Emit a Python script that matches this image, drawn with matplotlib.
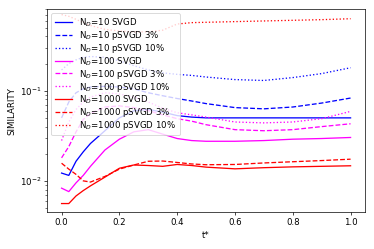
import numpy as np
import matplotlib
matplotlib.use("Agg")
import matplotlib.pyplot as plt

t = [0.0, 0.025, 0.05, 0.075, 0.1, 0.15, 0.2, 0.25, 0.3, 0.35, 0.4, 0.45, 0.5, 0.6, 0.7, 0.8, 0.9, 1.0]

# N_D = 10
n10_svgd = [0.0122, 0.0115, 0.0165, 0.021, 0.026, 0.036, 0.05, 0.06, 0.062, 0.058, 0.053, 0.051, 0.05, 0.05, 0.05, 0.05, 0.05, 0.05]
n10_p3 = [0.05, 0.075, 0.095, 0.105, 0.11, 0.112, 0.11, 0.105, 0.095, 0.088, 0.082, 0.077, 0.072, 0.065, 0.063, 0.066, 0.073, 0.083]
n10_p10 = [0.17, 0.2, 0.22, 0.235, 0.24, 0.235, 0.215, 0.19, 0.17, 0.158, 0.152, 0.148, 0.142, 0.133, 0.13, 0.14, 0.155, 0.18]

# N_D = 100
n100_svgd = [0.0083, 0.0076, 0.0095, 0.0115, 0.0145, 0.022, 0.029, 0.035, 0.037, 0.033, 0.0295, 0.028, 0.0275, 0.0275, 0.028, 0.029, 0.0295, 0.0303]
n100_p3 = [0.018, 0.024, 0.035, 0.048, 0.056, 0.066, 0.068, 0.065, 0.06, 0.054, 0.049, 0.046, 0.042, 0.037, 0.036, 0.037, 0.04, 0.043]
n100_p10 = [0.028, 0.045, 0.062, 0.075, 0.085, 0.095, 0.092, 0.085, 0.075, 0.064, 0.057, 0.054, 0.051, 0.045, 0.044, 0.045, 0.049, 0.059]

# N_D = 1000
n1000_svgd = [0.0056, 0.0056, 0.0068, 0.0078, 0.0088, 0.011, 0.0138, 0.015, 0.0148, 0.0145, 0.0152, 0.0148, 0.0142, 0.0136, 0.014, 0.0143, 0.0145, 0.0147]
n1000_p3 = [0.0157, 0.0135, 0.0118, 0.0100, 0.0097, 0.0112, 0.0135, 0.015, 0.0165, 0.0166, 0.016, 0.0154, 0.0151, 0.0152, 0.0158, 0.0163, 0.0168, 0.0174]
n1000_p10 = [0.7, 0.67, 0.62, 0.57, 0.53, 0.48, 0.46, 0.45, 0.45, 0.47, 0.55, 0.57, 0.575, 0.585, 0.595, 0.605, 0.615, 0.63]

DPI = 374 / 6
fig = plt.figure(figsize=(6, 4), dpi=DPI)
ax = fig.add_subplot(111)
fig.subplots_adjust(left=0.126, right=0.976, bottom=0.149, top=0.964)

ax.plot(t, n10_svgd, color='b', linestyle='-', label=r'N$_D$=10 SVGD')
ax.plot(t, n10_p3, color='b', linestyle='--', label=r'N$_D$=10 pSVGD 3%')
ax.plot(t, n10_p10, color='b', linestyle=':', label=r'N$_D$=10 pSVGD 10%')
ax.plot(t, n100_svgd, color='magenta', linestyle='-', label=r'N$_D$=100 SVGD')
ax.plot(t, n100_p3, color='magenta', linestyle='--', label=r'N$_D$=100 pSVGD 3%')
ax.plot(t, n100_p10, color='magenta', linestyle=':', label=r'N$_D$=100 pSVGD 10%')
ax.plot(t, n1000_svgd, color='r', linestyle='-', label=r'N$_D$=1000 SVGD')
ax.plot(t, n1000_p3, color='r', linestyle='--', label=r'N$_D$=1000 pSVGD 3%')
ax.plot(t, n1000_p10, color='r', linestyle=':', label=r'N$_D$=1000 pSVGD 10%')

ax.set_yscale('log')
ax.set_xlim(-0.05, 1.05)
ax.set_ylim(0.00453, 0.815)
ax.set_xticks([0.0, 0.2, 0.4, 0.6, 0.8, 1.0])
ax.set_xlabel('t*')
ax.set_ylabel('SIMILARITY')
ax.legend(loc='upper left', labelspacing=0.0)

fig.savefig('out.png', dpi=DPI)
